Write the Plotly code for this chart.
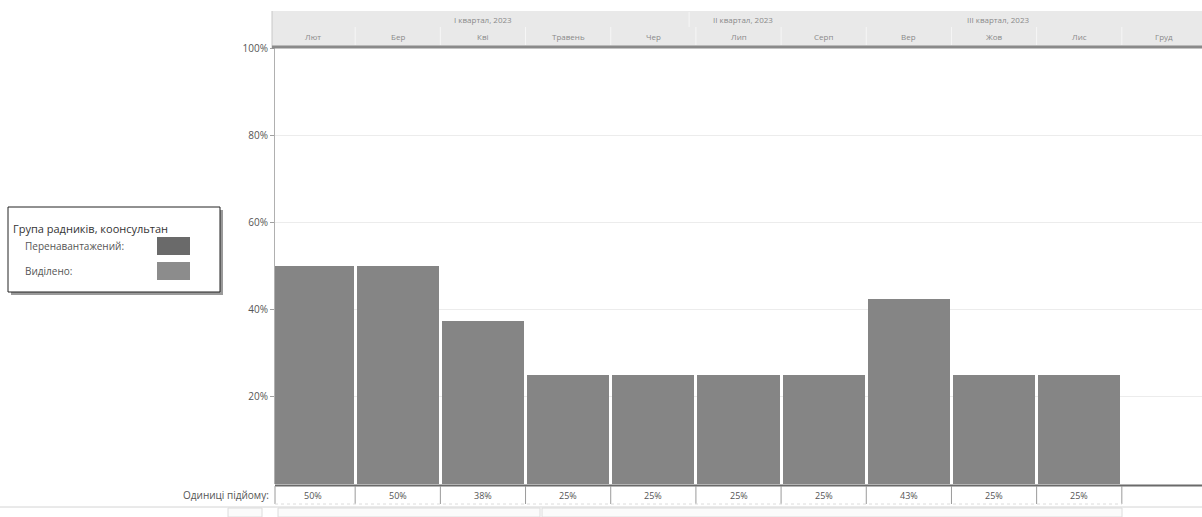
import math
import plotly.graph_objects as go

# ---- data ----
months = ["Лют", "Бер", "Кві", "Травень", "Чер", "Лип", "Серп", "Вер", "Жов", "Лис", "Груд"]
allocated = [50, 50, 37.5, 25, 25, 25, 25, 42.5, 25, 25, 0]
quarters = ["I квартал, 2023", "II квартал, 2023", "III квартал, 2023"]
quarter_pos = [2.0, 5.05, 8.05]
y_ticks = [20, 40, 60, 80, 100]
y_ticktext = ["20%", "40%", "60%", "80%", "100%"]
legend_title = "Група радників, коонсультан"
legend_items = ["Перенавантажений:", "Виділено:"]
row_label = "Одиниці підйому:"

W, H = 1202, 517
FONT = "Open Sans, Noto Sans, sans-serif"
def px(x): return x / W
def py(y): return 1 - y / H

x_idx = list(range(len(months)))
x_range = [0.5 - 80 / 85, 0.5 + 845 / 85]

fig = go.Figure()
fig.add_trace(go.Bar(
    x=x_idx, y=allocated, width=0.965,
    marker=dict(color="#858585", line=dict(width=0)),
    hoverinfo="skip", showlegend=False,
))

shapes = []
annotations = []

# header band
shapes.append(dict(type="rect", xref="paper", yref="paper", x0=px(272), x1=1, y0=py(46), y1=py(11),
                   fillcolor="#e9e9e9", line=dict(width=0), layer="below"))
shapes.append(dict(type="line", xref="paper", yref="paper", x0=px(272), x1=px(272), y0=py(48), y1=py(11),
                   line=dict(color="#c8c8c8", width=1)))
shapes.append(dict(type="line", xref="paper", yref="paper", x0=px(272), x1=1, y0=py(47), y1=py(47),
                   line=dict(color="#8a8a8a", width=3)))
for i in range(len(months) - 1):
    shapes.append(dict(type="line", xref="x", yref="paper", x0=i + 0.5, x1=i + 0.5, y0=py(45), y1=py(27),
                       line=dict(color="#f6f6f6", width=1)))
shapes.append(dict(type="line", xref="x", yref="paper", x0=4.42, x1=4.42, y0=py(27), y1=py(12),
                   line=dict(color="#f6f6f6", width=1)))
for i, m in enumerate(months):
    annotations.append(dict(x=i, y=py(36), xref="x", yref="paper", text=m, showarrow=False,
                            font=dict(family=FONT, size=8, color="#8a8a8a"), yanchor="middle"))
for q, p in zip(quarters, quarter_pos):
    annotations.append(dict(x=p, y=py(19), xref="x", yref="paper", text=q, showarrow=False,
                            font=dict(family=FONT, size=8, color="#8a8a8a"), yanchor="middle"))

# bottom row
shapes.append(dict(type="line", xref="paper", yref="paper", x0=px(275), x1=1, y0=py(485.5), y1=py(485.5),
                   line=dict(color="#6a6a6a", width=2)))
for i in range(len(months) - 1):
    shapes.append(dict(type="line", xref="x", yref="paper", x0=i + 0.5, x1=i + 0.5, y0=py(504), y1=py(486),
                       line=dict(color="#9a9a9a", width=1)))
shapes.append(dict(type="line", xref="paper", yref="paper", x0=px(275), x1=px(275), y0=py(504), y1=py(486),
                   line=dict(color="#9a9a9a", width=1)))
shapes.append(dict(type="line", xref="paper", yref="paper", x0=px(275), x1=px(1122), y0=py(504), y1=py(504),
                   line=dict(color="#dcdcdc", width=1, dash="dot")))
for i, v in enumerate(allocated):
    if v > 0:
        annotations.append(dict(x=i, y=py(495), xref="x", yref="paper",
                                text=f"{math.floor(v + 0.5)}%", showarrow=False,
                                font=dict(family=FONT, size=9, color="#555"), yanchor="middle"))
annotations.append(dict(x=px(271), y=py(495), xref="paper", yref="paper", text=row_label, showarrow=False,
                        xanchor="right", yanchor="middle", font=dict(family=FONT, size=10, color="#555")))

# scrollbar remnants
shapes.append(dict(type="line", xref="paper", yref="paper", x0=0, x1=1, y0=py(507), y1=py(507),
                   line=dict(color="#d4d4d4", width=1)))
for x0, x1 in [(228, 262), (278, 540), (542, 1122)]:
    shapes.append(dict(type="rect", xref="paper", yref="paper", x0=px(x0), x1=px(x1), y0=0, y1=py(508),
                       fillcolor="#fbfbfb", line=dict(color="#dcdcdc", width=1)))

# legend box
shapes.append(dict(type="rect", xref="paper", yref="paper", x0=px(11), x1=px(223), y0=py(295), y1=py(210),
                   fillcolor="#9a9a9a", line=dict(width=0)))
shapes.append(dict(type="rect", xref="paper", yref="paper", x0=px(8), x1=px(220), y0=py(292), y1=py(207),
                   fillcolor="white", line=dict(color="#222", width=1)))
annotations.append(dict(x=px(11), y=py(228), xref="paper", yref="paper", text=legend_title, showarrow=False,
                        xanchor="left", yanchor="middle", font=dict(family=FONT, size=11, color="#333")))
for txt, yy, col in [(legend_items[0], 246, "#6a6a6a"), (legend_items[1], 271, "#8c8c8c")]:
    annotations.append(dict(x=px(23), y=py(yy), xref="paper", yref="paper", text=txt, showarrow=False,
                            xanchor="left", yanchor="middle", font=dict(family=FONT, size=10, color="#555")))
    shapes.append(dict(type="rect", xref="paper", yref="paper", x0=px(157), x1=px(190),
                       y0=py(yy + 9), y1=py(yy - 9), fillcolor=col, line=dict(width=0)))

fig.update_layout(
    width=W, height=H, margin=dict(l=0, r=0, t=0, b=0, autoexpand=False),
    paper_bgcolor="white", plot_bgcolor="white",
    bargap=0, showlegend=False,
    xaxis=dict(domain=[px(275), 1], range=x_range, showticklabels=False, showgrid=False,
               zeroline=False, showline=False, ticks="", automargin=False),
    yaxis=dict(domain=[py(484), py(48)], range=[0, 100], tickvals=y_ticks, ticktext=y_ticktext,
               showgrid=True, gridcolor="#ececec", gridwidth=1, zeroline=False,
               showline=True, linecolor="#b0b0b0", linewidth=1, automargin=False,
               ticks="outside", ticklen=4, tickcolor="#a0a0a0",
               tickfont=dict(family=FONT, size=10, color="#555")),
    shapes=shapes, annotations=annotations,
)
fig.write_html("out.html")
